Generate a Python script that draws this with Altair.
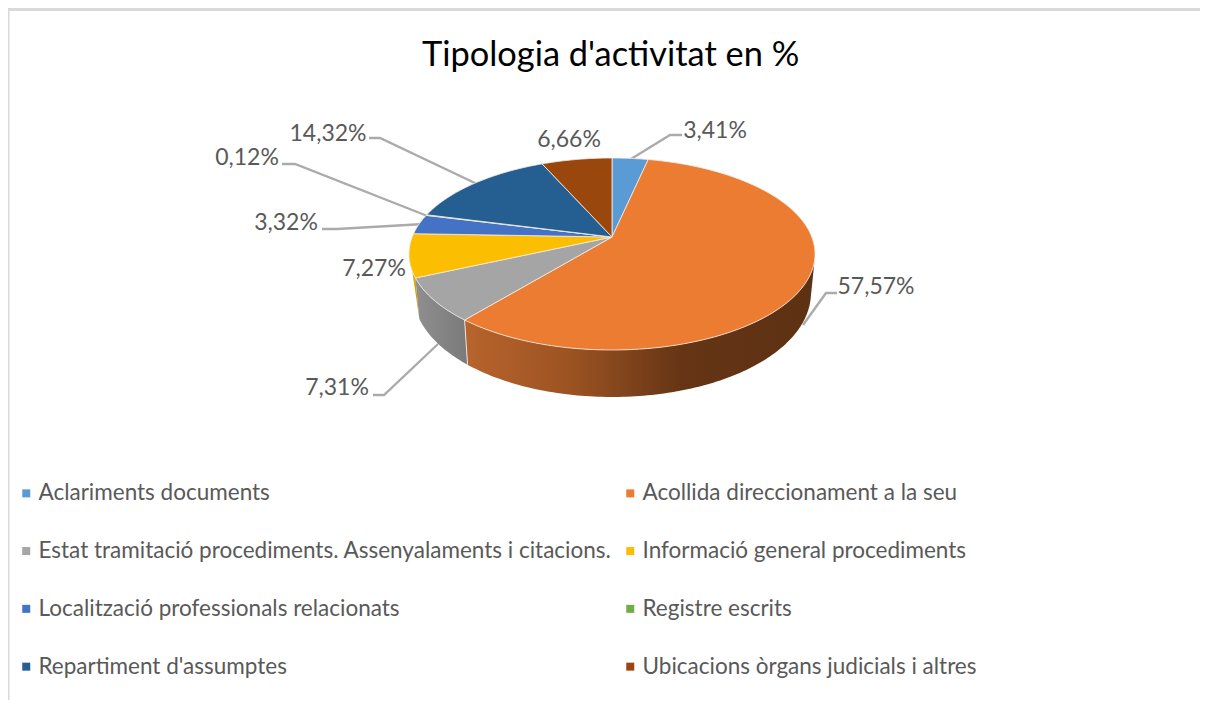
import math
import altair as alt
import pandas as pd

# ---- values ----
CATEGORIES = ["Aclariments documents", "Acollida direccionament a la seu",
              "Estat tramitació procediments. Assenyalaments i citacions.",
              "Informació general procediments", "Localització professionals relacionats",
              "Registre escrits", "Repartiment d'assumptes",
              "Ubicacions òrgans judicials i altres"]
VALUES = [3.41, 57.57, 7.31, 7.27, 3.32, 0.12, 14.32, 6.66]
COLORS = ["#5B9BD5", "#EB7C31", "#A5A5A5", "#FCBE00", "#4472C4", "#70AD47", "#255E91", "#9A470E"]
TITLE = "Tipologia d'activitat en %"

# ---- layout: perspective disc ----
CX, CY = 612.0, 237.0
A, B, K = 199.8, 93.0, 0.177
LOWER_SCALE = 0.98
FONT = "Lato"
INK = "#595959"

# text anchor of each percentage label, and its leader polyline
LABEL_POS = [(715, 131), (876, 287), (337, 388), (374, 269), (286, 223), (247, 158), (328, 134), (569, 140)]
LEADERS = [
    [(682, 135), (670, 135), (631, 159)],
    [(837, 293), (826, 293), (803, 325)],
    [(373, 395), (384, 395), (438, 344)],
    None,
    [(322, 229), (337, 229), (424, 224)],
    [(282, 164), (295, 164), (430, 217)],
    [(369, 138), (380, 138), (477, 184)],
    None,
]


def top(t):
    u, v = math.sin(t), math.cos(t)
    d = 1 + K * v
    return CX + A * u / d, CY - B * v / d


def low(t):
    x, y = top(t)
    return CX + (x - CX) * LOWER_SCALE, y + 37 - 10 * math.cos(t)


def arc(fn, a, b):
    n = max(2, int(abs(b - a) / math.radians(1)))
    return [fn(a + (b - a) * i / n) for i in range(n + 1)]


total = sum(VALUES)
cum = [0.0]
for v in VALUES:
    cum.append(cum[-1] + v)
ang = [2 * math.pi * c / total for c in cum]

X = alt.X("x:Q", axis=None, scale=alt.Scale(domain=[8, 1200], nice=False, zero=False))
Y = alt.Y("y:Q", axis=None, scale=alt.Scale(domain=[700, 8], nice=False, zero=False))


def frame(points, **extra):
    return pd.DataFrame([{"x": p[0], "y": p[1], "i": i, **extra} for i, p in enumerate(points)])


def polygon(points, fill):
    return alt.Chart(frame(points)).mark_line(fill=fill, stroke=None, strokeWidth=0, clip=False).encode(
        x=X, y=Y, order="i:Q")


def grad(stops):
    return alt.Gradient(gradient="linear", x1=0, x2=1, y1=0, y2=0,
                        stops=[alt.GradientStop(offset=o, color=c) for o, c in stops])


layers = []

# frame lines
layers.append(alt.Chart(frame([(8, 9.5), (1200, 9.5)])).mark_line(color="#D9D9D9", strokeWidth=3).encode(
    x=X, y=Y, order="i:Q"))
layers.append(alt.Chart(frame([(8, 9.5), (8, 700)])).mark_line(color="#D9D9D9", strokeWidth=3).encode(
    x=X, y=Y, order="i:Q"))

# leaders
for pts in LEADERS:
    if pts:
        layers.append(alt.Chart(frame(pts)).mark_line(color="#ABABAB", strokeWidth=2.4).encode(
            x=X, y=Y, order="i:Q"))

# side walls
RIGHT_EDGE = math.radians(103)
wall_orange = arc(top, RIGHT_EDGE, ang[2]) + arc(low, ang[2], RIGHT_EDGE)
wall_gray = arc(top, ang[2], ang[3]) + arc(low, ang[3], ang[2])
wall_yellow = arc(top, ang[3], math.radians(262)) + [low(ang[3])]
layers.append(polygon(wall_yellow, "#D9A300"))
layers.append(polygon(wall_orange, grad([(0, "#B8642D"), (0.3, "#9C5322"), (0.62, "#653515"), (1, "#5D3113")])))
layers.append(polygon(wall_gray, grad([(0, "#8F8F8F"), (1, "#7A7A7A")])))
# thin light seam between the gray and orange walls
layers.append(alt.Chart(frame([top(ang[2]), low(ang[2])])).mark_line(color="#E6E6E6", strokeWidth=1).encode(
    x=X, y=Y, order="i:Q"))

# top faces, carrying the legend
rows = []
for k, name in enumerate(CATEGORIES):
    pts = [(CX, CY)] + arc(top, ang[k], ang[k + 1]) + [(CX, CY)]
    for i, p in enumerate(pts):
        rows.append({"x": p[0], "y": p[1], "i": i, "name": name})
faces = alt.Chart(pd.DataFrame(rows)).mark_line(stroke="#F4EDE6", strokeWidth=0.8, strokeJoin="round").encode(
    x=X, y=Y, order="i:Q", detail="name:N",
    fill=alt.Fill("name:N", scale=alt.Scale(domain=CATEGORIES, range=COLORS),
                  legend=alt.Legend(title=None, orient="none", legendX=7, legendY=474,
                                    direction="horizontal", columns=2,
                                    symbolType="square", symbolSize=64, symbolStrokeWidth=0,
                                    labelFont=FONT, labelFontSize=22.5, labelColor=INK, labelLimit=0,
                                    labelOffset=1, rowPadding=34.8, columnPadding=7)))
layers.append(faces)

# percentage labels
labels = pd.DataFrame({"x": [p[0] for p in LABEL_POS], "y": [p[1] for p in LABEL_POS],
                       "t": [f"{v:.2f}".replace(".", ",") + "%" for v in VALUES]})
layers.append(alt.Chart(labels).mark_text(font=FONT, fontSize=23, color=INK, align="center", baseline="middle").encode(
    x=X, y=Y, text="t:N"))

chart = alt.layer(*layers).properties(
    width=1192, height=692, padding=0, autosize=alt.AutoSizeParams(type="none"),
    title=alt.TitleParams(TITLE, font=FONT, fontSize=34.4, fontWeight="normal", color="#000000",
                          anchor="start", orient="top", offset=-87, dx=420, baseline="middle"),
).configure_view(stroke=None)

chart.save("out.html", embed_options={"renderer": "svg", "actions": False})
